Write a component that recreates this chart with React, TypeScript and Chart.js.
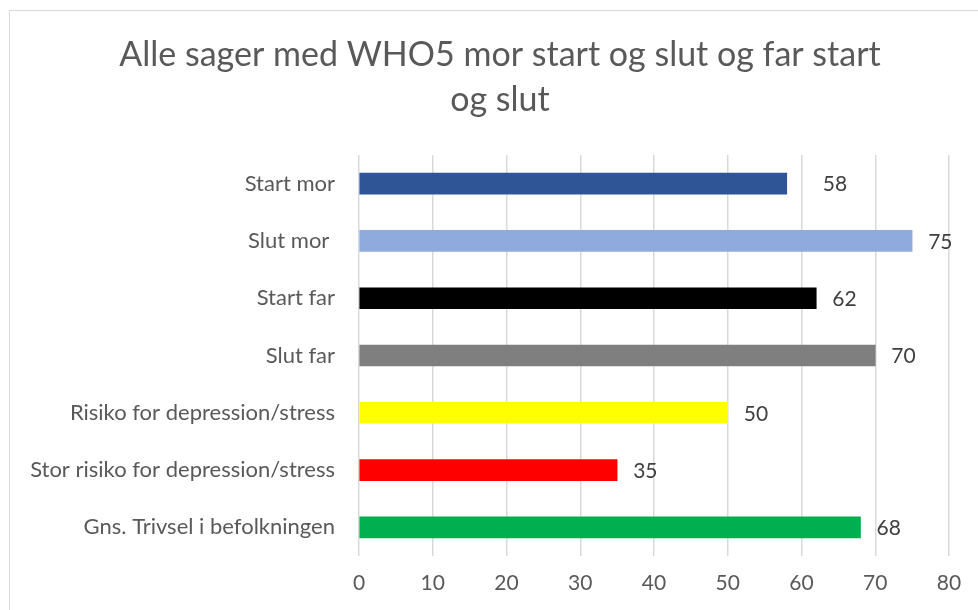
import React, { useEffect, useRef } from 'react';
import { Chart, registerables } from 'chart.js';

Chart.register(...registerables);

const titleLines = ['Alle sager med WHO5 mor start og slut og far start', 'og slut'];
const categories = [
  'Start mor',
  'Slut mor ',
  'Start far',
  'Slut far',
  'Risiko for depression/stress',
  'Stor risiko for depression/stress',
  'Gns. Trivsel i befolkningen',
];
const values = [58, 75, 62, 70, 50, 35, 68];
const barColors = ['#2F5597', '#8FAADC', '#000000', '#7F7F7F', '#FFFF00', '#FF0000', '#00B050'];
const xMin = 0;
const xMax = 80;
const xStep = 10;

const FONT = 'Lato, "Open Sans", sans-serif';

const framePlugin = {
  id: 'frame',
  beforeDraw(chart: any) {
    const { ctx, width, height } = chart;
    ctx.save();
    ctx.fillStyle = '#ffffff';
    ctx.fillRect(0, 0, width, height);
    ctx.strokeStyle = '#D9D9D9';
    ctx.lineWidth = 1;
    ctx.strokeRect(9.5, 10.5, width + 20, height + 20);
    // title, centred on the (partly cropped) chart frame
    ctx.fillStyle = '#595959';
    ctx.font = `34px ${FONT}`;
    ctx.textAlign = 'center';
    ctx.textBaseline = 'middle';
    const cx = width / 2 + 11;
    titleLines.forEach((line, i) => {
      ctx.fillText(line, cx, 55 + i * 45);
    });
    ctx.restore();
  },
};

// extra horizontal nudge for a label (style only)
const labelNudge: Record<number, number> = { 0: 20 };

const valueLabelPlugin = {
  id: 'valueLabels',
  afterDatasetsDraw(chart: any) {
    const { ctx } = chart;
    const meta = chart.getDatasetMeta(0);
    ctx.save();
    ctx.font = `21px ${FONT}`;
    ctx.fillStyle = '#404040';
    ctx.textAlign = 'left';
    ctx.textBaseline = 'middle';
    meta.data.forEach((bar: any, i: number) => {
      const v = chart.data.datasets[0].data[i];
      ctx.fillText(String(v), bar.x + 16 + (labelNudge[i] || 0), bar.y + 1);
    });
    ctx.restore();
  },
};

export default function App() {
  const ref = useRef<HTMLCanvasElement | null>(null);

  useEffect(() => {
    document.body.style.margin = '0';
    if (!ref.current) return;
    const chart = new Chart(ref.current, {
      type: 'bar',
      data: {
        labels: categories,
        datasets: [
          {
            data: values,
            backgroundColor: barColors,
            borderWidth: 0,
            barThickness: 21,
          },
        ],
      },
      options: {
        indexAxis: 'y',
        animation: false,
        responsive: false,
        layout: { padding: { left: 9, right: 29, top: 155, bottom: 0 } },
        plugins: {
          legend: { display: false },
          tooltip: { enabled: false },
          title: { display: false },
        },
        scales: {
          x: {
            min: xMin,
            max: xMax,
            ticks: {
              stepSize: xStep,
              color: '#595959',
              font: { family: FONT, size: 21 },
              padding: 15,
            },
            grid: { color: '#D9D9D9', lineWidth: 1.5, drawTicks: false },
            border: { display: false },
            afterFit(scale: any) {
              scale.height = 54;
            },
          },
          y: {
            ticks: {
              color: '#595959',
              font: { family: FONT, size: 22 },
              padding: 24,
              autoSkip: false,
            },
            grid: { display: false, drawTicks: false },
            border: { display: false },
            afterFit(scale: any) {
              scale.width = 350;
            },
          },
        },
      },
      plugins: [framePlugin, valueLabelPlugin],
    });
    return () => chart.destroy();
  }, []);

  return (
    <div style={{ width: 978, height: 610 }}>
      <canvas ref={ref} width={978} height={610} />
    </div>
  );
}
